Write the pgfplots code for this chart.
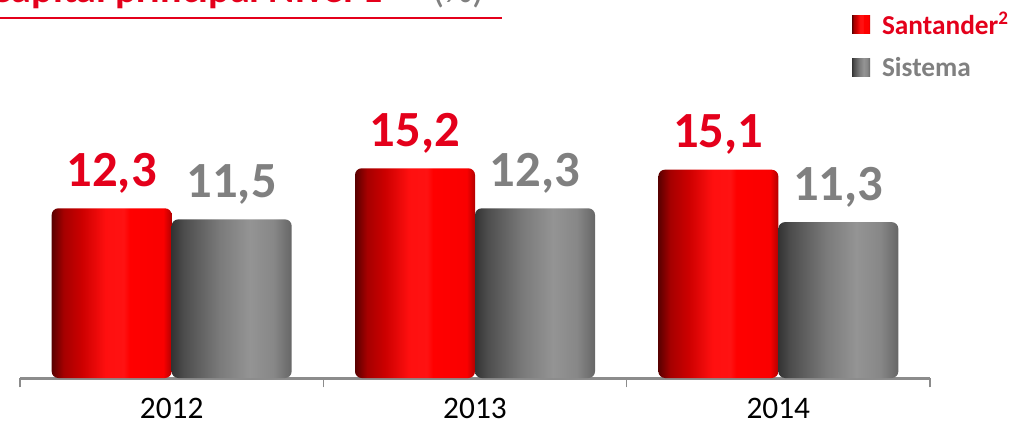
\documentclass[border=0pt]{standalone}
\usepackage{pgfplots}
\pgfplotsset{compat=1.18}
\usepackage{fontspec}
\setmainfont{Carlito}
\definecolor{sred}{RGB}{228,0,27}
\definecolor{sgray}{RGB}{128,128,128}
\definecolor{axgray}{RGB}{140,140,140}
% bar gradients, left to right (25bp..75bp is the bar width)
\pgfdeclarehorizontalshading{redbar}{100bp}{rgb(0bp)=(0.35,0,0); rgb(25bp)=(0.35,0,0); rgb(30bp)=(0.65,0,0);
  rgb(37.5bp)=(0.8,0,0); rgb(47.5bp)=(1,0.06,0.06); rgb(55bp)=(1,0.07,0.07); rgb(57.5bp)=(1,0,0);
  rgb(71.5bp)=(0.98,0,0); rgb(75bp)=(0.7,0,0); rgb(100bp)=(0.7,0,0)}
\pgfdeclarehorizontalshading{graybar}{100bp}{rgb(0bp)=(0.2,0.2,0.2); rgb(25bp)=(0.2,0.2,0.2); rgb(30bp)=(0.3,0.3,0.3);
  rgb(45bp)=(0.48,0.48,0.48); rgb(57.5bp)=(0.58,0.58,0.58); rgb(67.5bp)=(0.53,0.53,0.53);
  rgb(75bp)=(0.4,0.4,0.4); rgb(100bp)=(0.4,0.4,0.4)}
\pgfplotsset{
  santander/.style={draw=none, shade, shading=redbar, rounded corners=5pt, bar shift=-45pt,
    every node near coord/.append style={text=sred}},
  sistema/.style={draw=none, shade, shading=graybar, rounded corners=5pt, bar shift=45pt,
    every node near coord/.append style={text=sgray}}}

\begin{document}
\begin{tikzpicture}
\begin{axis}[at={(15pt,38.25pt)}, anchor=south west, scale only axis,
  width=682.5pt, height=283.5pt,
  xmin=-0.5, xmax=2.5, ymin=0, ymax=27.4,
  ybar, bar width=90pt,
  axis x line*=bottom, axis y line=none,
  axis line style={-, axgray, line width=2.25pt},
  xtick={0,1,2}, xticklabels={2012,2013,2014},
  minor xtick={-0.5,0.5,1.5,2.5},
  xtick align=outside, major tick length=0pt, minor tick length=7pt,
  every minor tick/.append style={axgray, line width=1.2pt},
  x tick label style={font=\fontsize{23.5}{24}\selectfont, inner sep=0pt, anchor=north, yshift=-15pt},
  ytick=\empty, clip=false,
  nodes near coords={\pgfmathprintnumber[fixed, fixed zerofill, precision=1, use comma, assume math mode=true]{\pgfplotspointmeta}},
  every node near coord/.append style={font=\bfseries\fontsize{38}{38}\selectfont, anchor=base, inner sep=0pt, yshift=16.5pt},
  legend style={at={(axis description cs:0.914,0.975)}, anchor=north west, draw=none, fill=none,
    font=\bfseries\fontsize{20.5}{22}\selectfont, row sep=11pt, inner sep=0pt,
    /tikz/every odd column/.append style={column sep=7pt}},
  legend cell align=left,
  legend image code/.code={\fill[#1, rounded corners=0pt] (0pt,-6.75pt) rectangle (13.5pt,6.75pt);}]
% one plot per bar so that each bar gets its own gradient
\addplot[santander] coordinates {(0,12.3)};
\addlegendentry{\textcolor{sred}{Santander\textsuperscript{2}}}
\addplot[sistema] coordinates {(0,11.5)};
\addlegendentry{\textcolor{sgray}{Sistema}}
\addplot[santander, forget plot] coordinates {(1,15.2)};
\addplot[sistema, forget plot] coordinates {(1,12.3)};
\addplot[santander, forget plot] coordinates {(2,15.1)};
\addplot[sistema, forget plot] coordinates {(2,11.3)};
\end{axis}
% title, cut off by the top edge as in the slide
\node[anchor=base east, inner sep=0pt, text=sred, font=\bfseries\fontsize{30}{30}\selectfont] at (287.25pt,319.5pt) {Capital principal Nível 1};
\node[anchor=base west, inner sep=0pt, text=sgray, font=\fontsize{30}{30}\selectfont] at (324pt,319.5pt) {(\%)};
\draw[sred, line width=1.5pt] (0pt,308.25pt) -- (376.5pt,308.25pt);
\pgfresetboundingbox
\useasboundingbox (0pt,0pt) rectangle (762.75pt,321.75pt);
\end{tikzpicture}
\end{document}
